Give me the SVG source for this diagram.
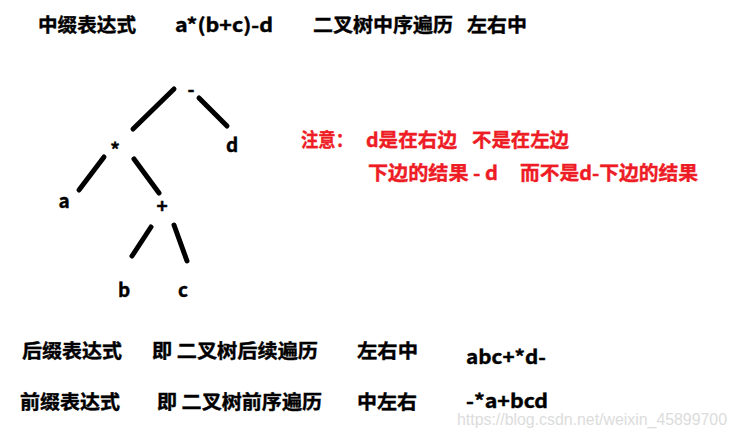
<svg xmlns="http://www.w3.org/2000/svg" width="736" height="440" viewBox="0 0 736 440">
<style>
.t{font-family:"Noto Sans CJK SC","Microsoft YaHei",sans-serif;font-weight:bold;font-size:19px;fill:#000;stroke:#000;stroke-width:0.4}
.r{fill:#ee1c25;stroke:#ee1c25}
.n{font-family:"Noto Sans CJK SC",sans-serif;font-weight:bold;font-size:19px;fill:#000;stroke:#000;stroke-width:0.4;text-anchor:middle}
.e{stroke:#000;stroke-width:5;stroke-linecap:round;fill:none}
.w{font-family:"Liberation Sans",Arial,sans-serif;font-size:16px;fill:#dcdcdc}
</style>
<rect width="736" height="440" fill="#fff"/>
<g id="header">
<text class="t" x="38" y="32" textLength="98" lengthAdjust="spacingAndGlyphs">中缀表达式</text>
<text class="t" x="175" y="32" textLength="98" lengthAdjust="spacingAndGlyphs">a*(b+c)-d</text>
<text class="t" x="313" y="32" textLength="140" lengthAdjust="spacingAndGlyphs">二叉树中序遍历</text>
<text class="t" x="467" y="32" textLength="60" lengthAdjust="spacingAndGlyphs">左右中</text>
</g>
<g id="connectors">
<line class="e" x1="174" y1="89" x2="133" y2="129"/>
<line class="e" x1="199" y1="98" x2="227" y2="126"/>
<line class="e" x1="104" y1="157" x2="79" y2="190"/>
<line class="e" x1="134" y1="159" x2="159" y2="193"/>
<line class="e" x1="151" y1="227" x2="132" y2="256"/>
<line class="e" x1="174" y1="225" x2="187" y2="261"/>
</g>
<g id="node-minus"><text class="n" x="191" y="96">-</text></g>
<g id="node-times"><text class="n" x="115" y="157">*</text></g>
<g id="node-d"><text class="n" x="232" y="152">d</text></g>
<g id="node-a"><text class="n" x="64" y="208">a</text></g>
<g id="node-plus"><text class="n" x="162" y="213">+</text></g>
<g id="node-b"><text class="n" x="124" y="297">b</text></g>
<g id="node-c"><text class="n" x="183" y="297">c</text></g>
<g id="note">
<text class="t r" x="301" y="147" textLength="52" lengthAdjust="spacingAndGlyphs">注意：</text>
<text class="t r" x="366" y="147" textLength="91" lengthAdjust="spacingAndGlyphs">d是在右边</text>
<text class="t r" x="472" y="147" textLength="97" lengthAdjust="spacingAndGlyphs">不是在左边</text>
<text class="t r" x="368" y="180" textLength="130" lengthAdjust="spacingAndGlyphs">下边的结果 - d</text>
<text class="t r" x="520" y="180" textLength="178" lengthAdjust="spacingAndGlyphs">而不是d-下边的结果</text>
</g>
<g id="postfix">
<text class="t" x="22" y="358" textLength="100" lengthAdjust="spacingAndGlyphs">后缀表达式</text>
<text class="t" x="152" y="358" textLength="166" lengthAdjust="spacingAndGlyphs">即 二叉树后续遍历</text>
<text class="t" x="357" y="358" textLength="61" lengthAdjust="spacingAndGlyphs">左右中</text>
<text class="t" x="466" y="364" textLength="80" lengthAdjust="spacingAndGlyphs">abc+*d-</text>
</g>
<g id="prefix">
<text class="t" x="20" y="409" textLength="100" lengthAdjust="spacingAndGlyphs">前缀表达式</text>
<text class="t" x="157" y="409" textLength="165" lengthAdjust="spacingAndGlyphs">即 二叉树前序遍历</text>
<text class="t" x="357" y="409" textLength="60" lengthAdjust="spacingAndGlyphs">中左右</text>
<text class="t" x="466" y="408" textLength="82" lengthAdjust="spacingAndGlyphs">-*a+bcd</text>
</g>
<text class="w" x="457" y="425" textLength="270" lengthAdjust="spacingAndGlyphs">https://blog.csdn.net/weixin_45899700</text>
</svg>
